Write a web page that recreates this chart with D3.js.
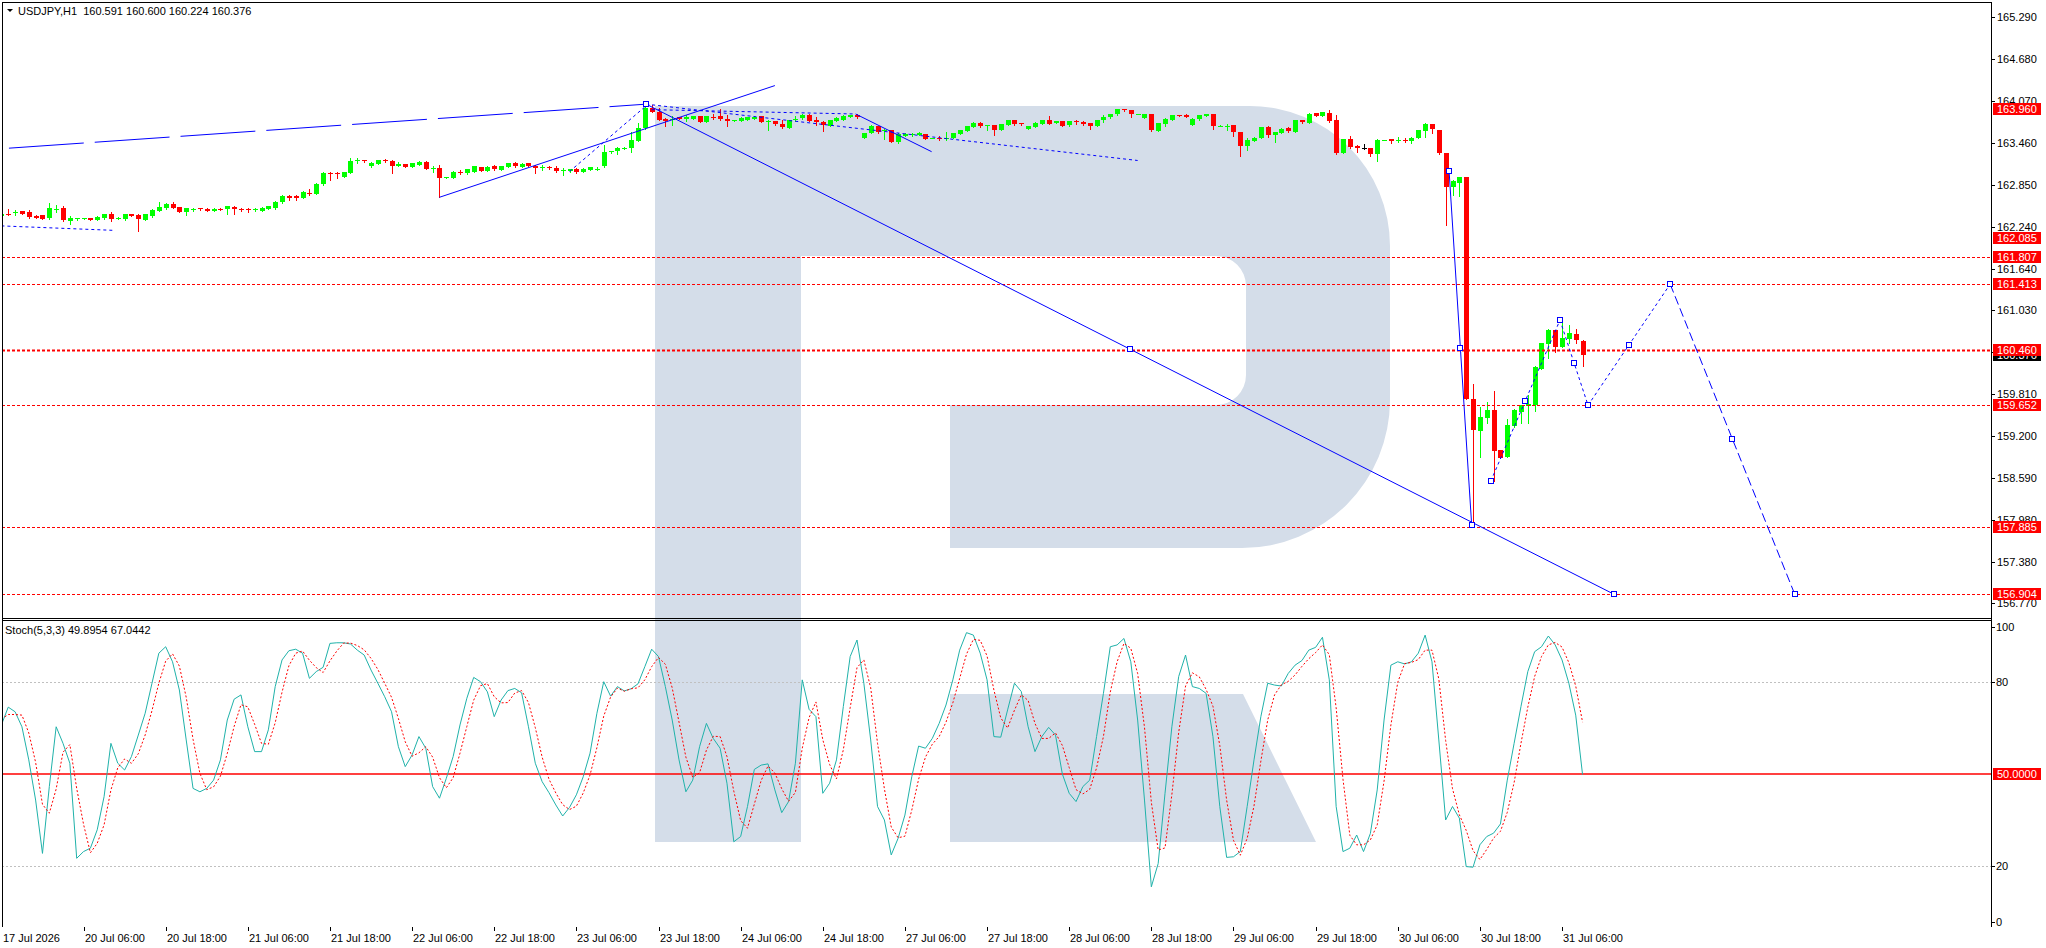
<!DOCTYPE html>
<html>
<head>
<meta charset="utf-8">
<script src="https://cdn.jsdelivr.net/npm/d3@7"></script>
<style>
  body { margin: 0; background: #fff; }
  text { font-family: "Liberation Sans", Arial, sans-serif; font-size: 11px; }
</style>
</head>
<body>
<div id="chart"></div>
<script>
// ---- data ----

const symbolTitle = "USDJPY,H1  160.591 160.600 160.224 160.376";
const stochTitle = "Stoch(5,3,3) 49.8954 67.0442";

// hourly bars: [open, high, low, close]
const bars = [
  [162.41,162.46,162.40,162.44],[162.44,162.51,162.42,162.43],[162.45,162.49,162.42,162.46],[162.47,162.48,162.43,162.44],
  [162.46,162.49,162.38,162.39],[162.41,162.42,162.37,162.38],[162.42,162.42,162.36,162.36],[162.37,162.59,162.36,162.52],
  [162.50,162.57,162.46,162.51],[162.52,162.55,162.33,162.34],[162.33,162.40,162.29,162.37],[162.368,162.38,162.35,162.372],
  [162.369,162.375,162.365,162.372],[162.37,162.38,162.34,162.35],[162.35,162.40,162.34,162.39],[162.37,162.44,162.36,162.43],
  [162.44,162.46,162.33,162.36],[162.37,162.39,162.355,162.375],[162.36,162.44,162.35,162.43],[162.43,162.44,162.40,162.41],
  [162.42,162.43,162.19,162.36],[162.35,162.44,162.34,162.43],[162.40,162.50,162.39,162.49],[162.47,162.61,162.47,162.54],
  [162.52,162.59,162.51,162.58],[162.58,162.61,162.52,162.52],[162.53,162.54,162.46,162.46],[162.46,162.52,162.42,162.52],
  [162.508,162.515,162.47,162.512],[162.52,162.52,162.495,162.50],[162.51,162.515,162.475,162.48],[162.48,162.52,162.47,162.51],
  [162.51,162.52,162.485,162.49],[162.50,162.555,162.44,162.55],[162.54,162.545,162.44,162.50],[162.51,162.52,162.48,162.49],
  [162.50,162.52,162.46,162.49],[162.485,162.515,162.48,162.51],[162.48,162.53,162.47,162.525],[162.505,162.55,162.50,162.545],
  [162.52,162.62,162.51,162.61],[162.61,162.71,162.60,162.70],[162.69,162.71,162.63,162.67],[162.695,162.71,162.64,162.665],
  [162.67,162.77,162.66,162.76],[162.74,162.80,162.71,162.72],[162.73,162.88,162.72,162.87],[162.87,163.04,162.86,163.03],
  [163.03,163.04,162.92,163.015],[163.03,163.04,162.96,163.015],[162.975,163.05,162.97,163.04],[163.03,163.25,163.03,163.21],
  [163.20,163.24,163.17,163.22],[163.22,163.225,163.195,163.20],[163.135,163.19,163.11,163.18],[163.16,163.225,163.155,163.22],
  [163.22,163.23,163.19,163.20],[163.21,163.22,163.03,163.135],[163.135,163.19,163.125,163.16],[163.16,163.165,163.115,163.12],
  [163.12,163.18,163.115,163.175],[163.145,163.20,163.14,163.19],[163.19,163.20,163.09,163.09],[163.10,163.135,163.05,163.105],
  [163.105,163.145,162.676,162.96],[162.96,162.975,162.955,162.97],[162.96,163.055,162.955,163.05],[163.045,163.07,163.01,163.025],
  [163.025,163.09,163.02,163.085],[163.05,163.13,163.045,163.125],[163.115,163.12,163.055,163.06],[163.06,163.125,163.055,163.12],
  [163.125,163.145,163.075,163.085],[163.075,163.13,163.07,163.125],[163.115,163.18,163.11,163.175],[163.18,163.185,163.12,163.125],
  [163.12,163.17,163.115,163.165],[163.17,163.175,163.13,163.135],[163.135,163.145,163.035,163.105],[163.105,163.145,163.07,163.11],
  [163.12,163.125,163.09,163.095],[163.105,163.135,163.048,163.058],[163.07,163.10,162.995,163.074],[163.058,163.09,163.05,163.087],
  [163.092,163.095,163.035,163.038],[163.043,163.095,163.04,163.092],[163.072,163.12,163.07,163.116],[163.09,163.116,163.072,163.093],
  [163.126,163.436,163.12,163.339],[163.33,163.355,163.325,163.35],[163.35,163.41,163.30,163.39],[163.385,163.40,163.38,163.39],
  [163.387,163.63,163.33,163.514],[163.494,163.751,163.49,163.678],[163.678,164.037,163.673,163.969],[163.969,164.018,163.911,163.921],
  [163.921,163.969,163.795,163.804],[163.814,163.824,163.717,163.785],[163.817,163.858,163.72,163.82],[163.843,163.85,163.81,163.814],
  [163.814,163.872,163.785,163.843],[163.82,163.858,163.815,163.853],[163.853,163.86,163.77,163.775],[163.775,163.86,163.77,163.853],
  [163.85,163.88,163.814,163.845],[163.862,163.959,163.80,163.809],[163.814,163.872,163.717,163.785],[163.797,163.805,163.79,163.80],
  [163.79,163.843,163.78,163.824],[163.804,163.848,163.80,163.843],[163.814,163.853,163.81,163.848],[163.853,163.858,163.77,163.775],
  [163.783,163.795,163.659,163.786],[163.785,163.79,163.73,163.736],[163.746,163.795,163.688,163.698],[163.683,163.804,163.678,163.795],
  [163.81,163.853,163.79,163.814],[163.824,163.887,163.814,163.872],[163.877,163.882,163.785,163.79],[163.804,163.843,163.727,163.765],
  [163.775,163.785,163.644,163.727],[163.717,163.805,163.712,163.80],[163.79,163.84,163.785,163.834],[163.804,163.867,163.80,163.862],
  [163.843,163.877,163.838,163.872],[163.872,163.887,163.833,163.848],[163.543,163.615,163.54,163.61],[163.615,163.72,163.61,163.717],
  [163.712,163.717,163.615,163.63],[163.647,163.664,163.528,163.65],[163.65,163.655,163.48,163.484],[163.474,163.605,163.47,163.601],
  [163.572,163.606,163.567,163.601],[163.577,163.606,163.572,163.601],[163.581,163.62,163.577,163.615],[163.596,163.60,163.523,163.528],
  [163.536,163.542,163.532,163.538],[163.543,163.562,163.513,163.54],[163.538,163.62,163.513,163.541],[163.543,163.615,163.538,163.61],
  [163.601,163.654,163.596,163.649],[163.639,163.717,163.635,163.712],[163.702,163.766,163.698,163.761],[163.761,163.775,163.702,163.717],
  [163.72,163.727,163.659,163.722],[163.727,163.732,163.586,163.659],[163.659,163.746,163.654,163.741],[163.727,163.804,163.722,163.799],
  [163.795,163.80,163.731,163.736],[163.756,163.761,163.731,163.736],[163.673,163.717,163.668,163.712],[163.702,163.766,163.698,163.761],
  [163.746,163.804,163.741,163.799],[163.799,163.853,163.741,163.746],[163.756,163.785,163.751,163.78],[163.785,163.79,163.707,163.712],
  [163.722,163.79,163.717,163.785],[163.785,163.80,163.746,163.765],[163.775,163.79,163.727,163.746],[163.756,163.756,163.673,163.717],
  [163.717,163.80,163.712,163.795],[163.795,163.872,163.775,163.848],[163.838,163.892,163.833,163.887],[163.887,163.959,163.872,163.959],
  [163.959,163.964,163.935,163.94],[163.94,163.94,163.848,163.892],[163.885,163.892,163.882,163.887],[163.833,163.892,163.828,163.887],
  [163.887,163.892,163.644,163.649],[163.644,163.756,163.639,163.751],[163.741,163.833,163.712,163.819],[163.799,163.877,163.795,163.872],
  [163.872,163.877,163.853,163.858],[163.872,163.882,163.838,163.843],[163.731,163.833,163.722,163.819],[163.809,163.877,163.804,163.872],
  [163.862,163.887,163.858,163.882],[163.887,163.887,163.673,163.717],[163.715,163.722,163.712,163.717],[163.715,163.741,163.659,163.717],
  [163.727,163.727,163.572,163.63],[163.63,163.63,163.276,163.421],[163.421,163.543,163.363,163.509],[163.499,163.548,163.494,163.543],
  [163.543,163.703,163.538,163.698],[163.698,163.712,163.552,163.581],[163.586,163.625,163.484,163.625],[163.615,163.678,163.61,163.673],
  [163.678,163.702,163.63,163.639],[163.63,163.804,163.625,163.799],[163.799,163.804,163.76,163.765],[163.756,163.897,163.751,163.892],
  [163.901,163.906,163.853,163.858],[163.858,163.921,163.853,163.911],[163.901,163.95,163.775,163.785],[163.804,163.872,163.30,163.315],
  [163.324,163.528,163.32,163.523],[163.518,163.562,163.397,163.402],[163.426,163.43,163.339,163.387],[163.387,163.455,163.385,163.387],
  [163.392,163.392,163.271,163.305],[163.305,163.518,163.203,163.514],[163.507,163.514,163.504,163.509],[163.518,163.528,163.46,163.489],
  [163.494,163.557,163.484,163.514],[163.516,163.543,163.484,163.512],[163.494,163.552,163.47,163.543],[163.543,163.659,163.538,163.654],
  [163.645,163.761,163.557,163.741],[163.741,163.741,163.616,163.664],[163.654,163.654,163.30,163.315],[163.325,163.325,162.273,162.830],
  [162.830,162.927,162.71,162.913],[162.889,162.966,162.695,162.966],[162.966,162.966,159.743,159.743],[159.743,159.961,157.926,159.293],
  [159.283,159.632,158.905,159.477],[159.472,159.695,159.39,159.583],[159.583,159.860,158.551,158.992],[159.002,159.002,158.890,158.890],
  [158.905,159.452,158.905,159.365],[159.351,159.603,159.341,159.583],[159.559,159.656,159.39,159.656],[159.642,159.801,159.39,159.670],
  [159.656,160.228,159.574,160.213],[160.184,160.553,160.184,160.553],[160.543,160.756,160.34,160.747],[160.747,160.747,160.427,160.504],
  [160.495,160.858,160.495,160.630],[160.611,160.814,160.562,160.698],[160.688,160.756,160.553,160.601],[160.591,160.600,160.224,160.376]
];

// Stochastic %K and %D per bar
const stochMain = [
  66.1,71.9,70.4,65.5,54.7,41.6,24.2,46.0,65.5,60.1,53.6,22.6,24.8,25.9,31.9,42.7,60.1,53.6,51.4,55.8,
  62.8,69.9,79.7,89.5,91.6,86.7,77.5,61.2,45.4,44.3,45.4,48.1,54.7,67.7,74.5,75.9,65.5,57.4,57.4,64.5,
  78.6,87.3,90.3,90.8,89.5,81.3,83.5,84.9,92.7,92.9,92.9,92.5,90.5,88.9,84.0,79.7,75.3,70.4,59.0,52.5,
  56.3,62.3,58.5,46.0,42.2,48.7,55.8,66.1,74.8,81.6,80.2,76.9,68.8,74.2,77.3,78.0,76.6,65.5,53.6,47.6,
  44.0,40.0,36.4,39.2,43.3,49.2,56.9,69.9,80.2,75.5,78.6,77.2,77.9,79.5,85.1,90.8,88.4,78.6,67.7,54.7,
  44.3,48.1,59.0,66.6,61.7,58.5,47.1,28.0,29.7,39.5,51.6,53.0,53.4,44.9,37.5,41.1,53.6,80.8,71.2,68.8,
  43.8,47.1,54.7,72.1,88.4,93.8,79.7,61.2,39.5,35.1,23.7,29.1,36.7,49.2,59.2,58.5,61.7,66.6,72.6,80.8,
  90.5,96.2,95.4,89.5,80.8,62.3,62.1,71.0,79.7,77.0,65.5,57.4,62.3,65.3,62.8,50.1,43.8,41.1,46.0,48.1,
  62.3,76.4,91.6,92.2,94.3,86.7,67.7,41.6,13.3,20.9,43.8,65.5,81.9,88.9,78.6,78.0,76.4,62.3,39.5,22.9,
  23.1,24.8,39.5,54.7,68.8,79.7,79.1,78.8,82.9,85.6,87.1,90.5,91.4,94.7,80.8,39.5,24.8,25.9,30.2,24.8,
  30.7,44.9,67.7,85.6,86.7,86.0,86.7,89.5,95.4,86.7,61.2,35.1,39.5,35.7,19.9,19.7,27.0,29.7,30.8,33.8,
  48.1,60.1,72.1,83.5,90.0,91.6,95.1,92.2,87.3,79.7,69.3,49.9
];
const stochSignal = [
  68.0,69.5,69.5,69.3,63.5,53.9,40.2,37.3,45.2,57.2,59.7,45.4,33.7,24.4,27.5,33.5,44.9,52.1,55.0,53.6,
  56.7,62.8,70.8,79.7,86.9,89.3,85.3,75.1,61.4,50.3,45.0,45.9,49.4,56.8,65.6,72.7,72.0,66.3,60.1,59.8,
  66.8,76.8,85.4,89.5,90.2,87.2,84.8,83.2,87.0,90.2,92.8,92.8,92.0,90.6,87.8,84.2,79.7,75.1,68.2,60.6,
  55.9,57.0,59.0,55.6,48.9,45.6,48.9,56.9,65.6,74.2,78.9,79.6,75.3,73.3,73.4,76.5,77.3,73.4,65.2,55.6,
  48.4,43.9,40.1,38.5,39.6,43.9,49.8,58.7,69.0,75.2,78.1,77.1,77.9,78.2,80.8,85.1,88.1,85.9,78.2,67.0,
  55.6,49.0,50.5,57.9,62.4,62.3,55.8,44.5,34.9,32.4,40.3,48.0,52.7,50.4,45.3,41.2,44.1,58.5,68.5,73.6,
  61.3,53.2,48.5,58.0,71.7,84.8,87.3,78.2,60.1,45.3,32.8,29.3,29.8,38.3,48.4,55.6,59.8,62.3,67.0,73.3,
  81.3,89.2,94.0,93.7,88.6,77.5,68.4,65.1,70.9,75.9,74.1,66.6,61.7,61.7,63.5,59.4,52.2,45.0,43.6,45.1,
  52.1,62.3,76.8,86.7,92.7,91.1,82.9,65.3,40.9,25.3,26.0,43.4,63.7,78.8,83.1,81.8,77.7,72.2,59.4,41.6,
  28.5,23.6,29.1,39.7,54.3,67.7,75.9,79.2,80.3,82.4,85.2,87.7,89.7,92.2,89.0,71.7,48.4,30.1,27.0,27.0,
  28.6,33.5,47.8,66.1,80.0,86.1,86.5,87.4,90.5,90.5,81.1,61.0,45.3,36.8,31.7,25.1,22.2,25.5,29.2,31.4,
  37.6,47.3,60.1,71.9,81.9,88.4,92.2,93.0,91.5,86.4,78.8,67.0
];

// time axis: bar index of each label and its text
const timeTickBars = [0,12,24,36,48,60,72,84,96,108,120,132,144,156,168,180,192,204,216,228];
const timeTickLabels = ["17 Jul 2026","20 Jul 06:00","20 Jul 18:00","21 Jul 06:00","21 Jul 18:00",
  "22 Jul 06:00","22 Jul 18:00","23 Jul 06:00","23 Jul 18:00","24 Jul 06:00","24 Jul 18:00",
  "27 Jul 06:00","27 Jul 18:00","28 Jul 06:00","28 Jul 18:00","29 Jul 06:00","29 Jul 18:00",
  "30 Jul 06:00","30 Jul 18:00","31 Jul 06:00"];

const priceTicks = [165.290,164.680,164.070,163.460,162.850,162.240,161.640,161.030,
  160.420,159.810,159.200,158.590,157.980,157.380,156.770];
const hiddenTick = 160.420; // covered by the price tags in the reference
const levelLines = [161.807,161.413,160.460,159.652,157.885,156.904];
const boldLevel = 160.460;
const levelTags = [163.960,162.085,161.807,161.413,160.460,159.652,157.885,156.904];
const bidPrice = 160.376;

const stochTicks = [100,80,20,0];
const stochLevels = [80,20];
const stochMid = 50;

// analysis lines as [bar index, price] pairs
const longDashLines = [[[1.1,163.39],[94.2,164.03]]];
const solidLines = [
  [[64,162.676],[113,164.30]],
  [[124.8,163.887],[135.9,163.339]]
];
const dottedLines = [
  [[0,162.26],[16.2,162.196]],
  [[83,163.05],[94,163.99]],
  [[94.2,164.03],[166.0,163.211]],
  [[95,163.95],[124.8,163.887]]
];
// wave / forecast lines (drawn with handles at ends and middle)
const waveSolid = [
  [[94.2,164.03],[235.6,156.904]],
  [[211.5,163.06],[214.8,157.91]]
];
const waveDotted = [
  [[217.6,158.55],[227.7,160.89]],
  [[227.7,160.89],[231.8,159.652]],
  [[231.8,159.652],[243.8,161.413]]
];
const waveDashed = [[[243.8,161.413],[262.0,156.904]]];

// ---- layout ----
const W = 2046, H = 948;
const left = 2, right = 1991;
const priceTop = 2.5, priceBottom = 618;
const stochTop = 621, stochBottom = 927;

const svg = d3.select("#chart").append("svg")
  .attr("width", W).attr("height", H)
  .style("display", "block");

const x = d3.scaleLinear().domain([0, 290.7]).range([1.4, 1991.2]);
const y = d3.scaleLinear().domain([156.559, 165.508]).range([priceBottom, priceTop]);
const ys = d3.scaleLinear().domain([0, 100]).range([927.6, 621]);

const defs = svg.append("defs");
defs.append("clipPath").attr("id", "clipPrice").append("rect")
  .attr("x", left).attr("y", priceTop).attr("width", right - left).attr("height", priceBottom - priceTop);
defs.append("clipPath").attr("id", "clipStoch").append("rect")
  .attr("x", left).attr("y", stochTop).attr("width", right - left).attr("height", stochBottom - stochTop);
defs.append("clipPath").attr("id", "clipAll").append("rect")
  .attr("x", left).attr("y", priceTop).attr("width", right - left).attr("height", stochBottom - priceTop);

// watermark logo (decoration, pixel space)
svg.append("path")
  .attr("clip-path", "url(#clipAll)")
  .attr("fill", "#d4dde9")
  .attr("d", "M655,106 H1250 A140,140 0 0 1 1390,246 V400 A148,148 0 0 1 1242,548 H950 V405 H1216 " +
    "A30,30 0 0 0 1246,375 V286 A30,30 0 0 0 1216,256 H801 V842 H655 Z " +
    "M950,694 H1243 L1316,842 H950 Z");

// ---- price panel ----
const price = svg.append("g").attr("clip-path", "url(#clipPrice)");

// candles
const candle = price.append("g").selectAll("g")
  .data(bars)
  .join("g")
  .attr("shape-rendering", "crispEdges");

const barColor = d => d[3] > d[0] ? "#00ff00" : (d[3] < d[0] ? "#ff0000" : "#000000");

candle.append("line")
  .attr("x1", (d, i) => Math.round(x(i)) + 0.5)
  .attr("x2", (d, i) => Math.round(x(i)) + 0.5)
  .attr("y1", d => Math.round(y(d[1])))
  .attr("y2", d => Math.round(y(d[2])) + 1)
  .attr("stroke", barColor);

candle.append("rect")
  .attr("x", (d, i) => Math.round(x(i)) - 2)
  .attr("width", 5)
  .attr("y", d => Math.round(y(Math.max(d[0], d[3]))))
  .attr("height", d => Math.max(1, Math.round(y(Math.min(d[0], d[3]))) - Math.round(y(Math.max(d[0], d[3])))))
  .attr("fill", barColor);

// horizontal levels
price.append("g").selectAll("line")
  .data(levelLines)
  .join("line")
  .attr("x1", left).attr("x2", right)
  .attr("y1", d => Math.round(y(d)) + 0.5)
  .attr("y2", d => Math.round(y(d)) + 0.5)
  .attr("stroke", "#ff0000")
  .attr("stroke-width", d => d === boldLevel ? 2 : 1)
  .attr("stroke-dasharray", "3,2");

// analysis lines
const trend = d3.line().x(d => x(d[0])).y(d => y(d[1]));

function drawLines(data, dash) {
  price.append("g").selectAll("path")
    .data(data)
    .join("path")
    .attr("d", trend)
    .attr("fill", "none")
    .attr("stroke", "#0000ff")
    .attr("stroke-width", 1)
    .attr("stroke-dasharray", dash);
}
drawLines(longDashLines, "75,11");
drawLines(solidLines, null);
drawLines(dottedLines, "3,3");
drawLines(waveSolid, null);
drawLines(waveDotted, "3,3");
drawLines(waveDashed, "9,4");

// handles on wave lines
const handles = [];
[...waveSolid, ...waveDotted, ...waveDashed].forEach(seg => {
  handles.push(seg[0], seg[1], [(seg[0][0] + seg[1][0]) / 2, (seg[0][1] + seg[1][1]) / 2]);
});
price.append("g").selectAll("rect")
  .data(handles)
  .join("rect")
  .attr("x", d => Math.round(x(d[0])) - 2.5)
  .attr("y", d => Math.round(y(d[1])) - 2.5)
  .attr("width", 5).attr("height", 5)
  .attr("fill", "#fff")
  .attr("stroke", "#0000ff");

// title
svg.append("path").attr("d", "M7,9 L13,9 L10,12 Z").attr("fill", "#000");
svg.append("text").attr("x", 18).attr("y", 15).attr("fill", "#000")
  .style("white-space", "pre").attr("xml:space", "preserve").text(symbolTitle);

// ---- stochastic panel ----
const stoch = svg.append("g").attr("clip-path", "url(#clipStoch)");

stoch.append("g").selectAll("line")
  .data(stochLevels)
  .join("line")
  .attr("x1", left).attr("x2", right)
  .attr("y1", d => Math.round(ys(d)) + 0.5)
  .attr("y2", d => Math.round(ys(d)) + 0.5)
  .attr("stroke", "#c0c0c0")
  .attr("stroke-dasharray", "2,2");

stoch.append("line")
  .attr("x1", left).attr("x2", right)
  .attr("y1", Math.round(ys(stochMid)))
  .attr("y2", Math.round(ys(stochMid)))
  .attr("stroke", "#ff0000")
  .attr("stroke-width", 1.6);

const kLine = d3.line().x((d, i) => x(i)).y(d => ys(d));

stoch.append("path")
  .datum(stochMain)
  .attr("d", kLine)
  .attr("fill", "none")
  .attr("stroke", "#20b2aa")
  .attr("stroke-width", 1);

stoch.append("path")
  .datum(stochSignal)
  .attr("d", kLine)
  .attr("fill", "none")
  .attr("stroke", "#ff0000")
  .attr("stroke-width", 1)
  .attr("stroke-dasharray", "2,2");

svg.append("text").attr("x", 5).attr("y", 634).attr("fill", "#000").text(stochTitle);

// ---- frame ----
const frame = svg.append("g").attr("stroke", "#000").attr("shape-rendering", "crispEdges");
frame.append("line").attr("x1", left).attr("x2", right + 0.5).attr("y1", 2.5).attr("y2", 2.5);
frame.append("line").attr("x1", 2.5).attr("x2", 2.5).attr("y1", 2).attr("y2", stochBottom);
frame.append("line").attr("x1", right + 0.5).attr("x2", right + 0.5).attr("y1", 2).attr("y2", stochBottom);
frame.append("line").attr("x1", left).attr("x2", right).attr("y1", 618.5).attr("y2", 618.5);
frame.append("line").attr("x1", left).attr("x2", right).attr("y1", 620.5).attr("y2", 620.5);

// ---- right price axis ----
const axisX = right + 1;
const pAxis = svg.append("g");
pAxis.selectAll("line")
  .data(priceTicks)
  .join("line")
  .attr("x1", axisX).attr("x2", axisX + 3)
  .attr("y1", d => Math.round(y(d)) + 0.5).attr("y2", d => Math.round(y(d)) + 0.5)
  .attr("stroke", "#000");
pAxis.selectAll("text")
  .data(priceTicks.filter(d => d !== hiddenTick))
  .join("text")
  .attr("x", 1997)
  .attr("y", d => y(d) + 4)
  .attr("fill", "#000")
  .text(d => d.toFixed(3));

function tag(g, value, yPos, bg, label) {
  g.append("rect")
    .attr("x", 1993).attr("y", Math.round(yPos) - 6)
    .attr("width", 48).attr("height", 12)
    .attr("fill", bg);
  g.append("text")
    .attr("x", 1997).attr("y", yPos + 4)
    .attr("fill", "#fff")
    .text(label);
}

const tags = svg.append("g").attr("shape-rendering", "crispEdges");
tag(tags, bidPrice, y(bidPrice), "#000", bidPrice.toFixed(3));
levelTags.forEach(v => tag(tags, v, y(v), "#ff0000", v.toFixed(3)));

// ---- stochastic axis ----
const sAxis = svg.append("g");
sAxis.selectAll("line")
  .data(stochTicks)
  .join("line")
  .attr("x1", axisX).attr("x2", axisX + 3)
  .attr("y1", d => Math.round(ys(d) + (d === 100 ? 6 : d === 0 ? -6 : 0)) + 0.5)
  .attr("y2", d => Math.round(ys(d) + (d === 100 ? 6 : d === 0 ? -6 : 0)) + 0.5)
  .attr("stroke", "#000");
sAxis.selectAll("text")
  .data(stochTicks)
  .join("text")
  .attr("x", 1996)
  .attr("y", d => ys(d) + (d === 100 ? 6 : d === 0 ? -6 : 0) + 4)
  .attr("fill", "#000")
  .text(d => d);
tag(svg.append("g"), stochMid, ys(stochMid), "#ff0000", stochMid.toFixed(4));

// ---- time axis ----
const tAxis = svg.append("g");
tAxis.selectAll("line")
  .data(timeTickBars.filter(d => d > 0))
  .join("line")
  .attr("x1", d => Math.round(x(d)) + 0.5).attr("x2", d => Math.round(x(d)) + 0.5)
  .attr("y1", stochBottom).attr("y2", stochBottom + 4)
  .attr("stroke", "#000");
tAxis.selectAll("text")
  .data(timeTickBars)
  .join("text")
  .attr("x", d => d === 0 ? 3 : Math.round(x(d)) + 1)
  .attr("y", 942)
  .attr("fill", "#000")
  .text((d, i) => timeTickLabels[i]);
</script>
</body>
</html>
